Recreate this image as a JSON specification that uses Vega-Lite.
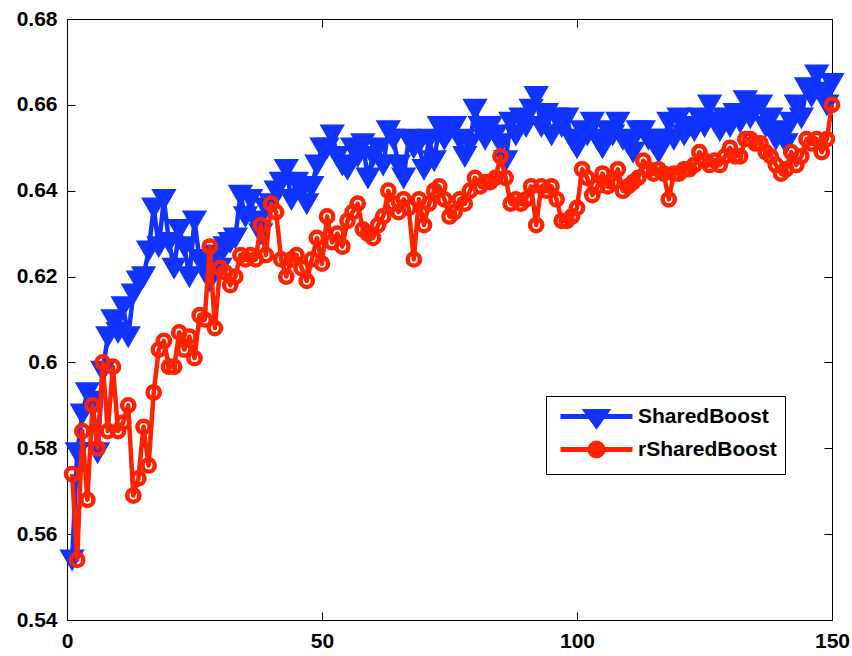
{
  "$schema": "https://vega.github.io/schema/vega-lite/v6.json",
  "autosize": "none",
  "width": 765,
  "height": 601,
  "padding": {"left": 67, "top": 19, "right": 20, "bottom": 36},
  "background": "white",
  "config": {
    "view": {"stroke": "black", "strokeWidth": 1},
    "axis": {
      "grid": false,
      "domainColor": "black",
      "domainWidth": 1,
      "tickColor": "black",
      "tickWidth": 1,
      "tickSize": -8,
      "labelFont": "Liberation Sans",
      "labelFontSize": 21,
      "labelFontWeight": "bold",
      "labelColor": "black",
      "labelPadding": 18,
      "labelFlush": false,
      "labelOverlap": false,
      "labelBound": false,
      "title": null
    },
    "legend": {
      "title": null, "orient": "none", "legendX": 479, "legendY": 377,
      "strokeColor": "black", "fillColor": "white", "padding": 8, "rowPadding": -3, "cornerRadius": 0,
      "symbolSize": 400, "symbolStrokeWidth": 5, "symbolOpacity": 1, "symbolOffset": 30, "labelOffset": 29,
      "labelFont": "Liberation Sans", "labelFontSize": 21, "labelFontWeight": "bold", "labelColor": "black", "labelLimit": 300
    }
  },
  "data": {
    "values": [
      {"x":1,"SharedBoost":0.554,"rSharedBoost":0.574},
      {"x":2,"SharedBoost":0.579,"rSharedBoost":0.554},
      {"x":3,"SharedBoost":0.588,"rSharedBoost":0.584},
      {"x":4,"SharedBoost":0.593,"rSharedBoost":0.568},
      {"x":5,"SharedBoost":0.591,"rSharedBoost":0.590},
      {"x":6,"SharedBoost":0.579,"rSharedBoost":0.580},
      {"x":7,"SharedBoost":0.598,"rSharedBoost":0.600},
      {"x":8,"SharedBoost":0.606,"rSharedBoost":0.584},
      {"x":9,"SharedBoost":0.610,"rSharedBoost":0.599},
      {"x":10,"SharedBoost":0.607,"rSharedBoost":0.584},
      {"x":11,"SharedBoost":0.613,"rSharedBoost":0.586},
      {"x":12,"SharedBoost":0.606,"rSharedBoost":0.590},
      {"x":13,"SharedBoost":0.616,"rSharedBoost":0.569},
      {"x":14,"SharedBoost":0.619,"rSharedBoost":0.573},
      {"x":15,"SharedBoost":0.620,"rSharedBoost":0.585},
      {"x":16,"SharedBoost":0.626,"rSharedBoost":0.576},
      {"x":17,"SharedBoost":0.636,"rSharedBoost":0.593},
      {"x":18,"SharedBoost":0.627,"rSharedBoost":0.603},
      {"x":19,"SharedBoost":0.638,"rSharedBoost":0.605},
      {"x":20,"SharedBoost":0.628,"rSharedBoost":0.599},
      {"x":21,"SharedBoost":0.622,"rSharedBoost":0.599},
      {"x":22,"SharedBoost":0.631,"rSharedBoost":0.607},
      {"x":23,"SharedBoost":0.627,"rSharedBoost":0.603},
      {"x":24,"SharedBoost":0.620,"rSharedBoost":0.606},
      {"x":25,"SharedBoost":0.633,"rSharedBoost":0.601},
      {"x":26,"SharedBoost":0.624,"rSharedBoost":0.611},
      {"x":27,"SharedBoost":0.622,"rSharedBoost":0.610},
      {"x":28,"SharedBoost":0.619,"rSharedBoost":0.627},
      {"x":29,"SharedBoost":0.625,"rSharedBoost":0.608},
      {"x":30,"SharedBoost":0.622,"rSharedBoost":0.622},
      {"x":31,"SharedBoost":0.627,"rSharedBoost":0.621},
      {"x":32,"SharedBoost":0.628,"rSharedBoost":0.618},
      {"x":33,"SharedBoost":0.629,"rSharedBoost":0.620},
      {"x":34,"SharedBoost":0.639,"rSharedBoost":0.625},
      {"x":35,"SharedBoost":0.634,"rSharedBoost":0.624},
      {"x":36,"SharedBoost":0.638,"rSharedBoost":0.625},
      {"x":37,"SharedBoost":0.633,"rSharedBoost":0.624},
      {"x":38,"SharedBoost":0.630,"rSharedBoost":0.632},
      {"x":39,"SharedBoost":0.636,"rSharedBoost":0.625},
      {"x":40,"SharedBoost":0.637,"rSharedBoost":0.637},
      {"x":41,"SharedBoost":0.640,"rSharedBoost":0.635},
      {"x":42,"SharedBoost":0.642,"rSharedBoost":0.624},
      {"x":43,"SharedBoost":0.645,"rSharedBoost":0.620},
      {"x":44,"SharedBoost":0.638,"rSharedBoost":0.624},
      {"x":45,"SharedBoost":0.642,"rSharedBoost":0.625},
      {"x":46,"SharedBoost":0.640,"rSharedBoost":0.622},
      {"x":47,"SharedBoost":0.637,"rSharedBoost":0.619},
      {"x":48,"SharedBoost":0.641,"rSharedBoost":0.624},
      {"x":49,"SharedBoost":0.646,"rSharedBoost":0.629},
      {"x":50,"SharedBoost":0.650,"rSharedBoost":0.623},
      {"x":51,"SharedBoost":0.650,"rSharedBoost":0.634},
      {"x":52,"SharedBoost":0.653,"rSharedBoost":0.628},
      {"x":53,"SharedBoost":0.648,"rSharedBoost":0.630},
      {"x":54,"SharedBoost":0.646,"rSharedBoost":0.627},
      {"x":55,"SharedBoost":0.645,"rSharedBoost":0.633},
      {"x":56,"SharedBoost":0.650,"rSharedBoost":0.635},
      {"x":57,"SharedBoost":0.648,"rSharedBoost":0.637},
      {"x":58,"SharedBoost":0.651,"rSharedBoost":0.631},
      {"x":59,"SharedBoost":0.643,"rSharedBoost":0.630},
      {"x":60,"SharedBoost":0.648,"rSharedBoost":0.629},
      {"x":61,"SharedBoost":0.650,"rSharedBoost":0.632},
      {"x":62,"SharedBoost":0.646,"rSharedBoost":0.634},
      {"x":63,"SharedBoost":0.654,"rSharedBoost":0.640},
      {"x":64,"SharedBoost":0.652,"rSharedBoost":0.637},
      {"x":65,"SharedBoost":0.646,"rSharedBoost":0.635},
      {"x":66,"SharedBoost":0.643,"rSharedBoost":0.638},
      {"x":67,"SharedBoost":0.652,"rSharedBoost":0.636},
      {"x":68,"SharedBoost":0.650,"rSharedBoost":0.624},
      {"x":69,"SharedBoost":0.651,"rSharedBoost":0.638},
      {"x":70,"SharedBoost":0.645,"rSharedBoost":0.632},
      {"x":71,"SharedBoost":0.652,"rSharedBoost":0.637},
      {"x":72,"SharedBoost":0.647,"rSharedBoost":0.640},
      {"x":73,"SharedBoost":0.655,"rSharedBoost":0.641},
      {"x":74,"SharedBoost":0.652,"rSharedBoost":0.638},
      {"x":75,"SharedBoost":0.654,"rSharedBoost":0.634},
      {"x":76,"SharedBoost":0.655,"rSharedBoost":0.635},
      {"x":77,"SharedBoost":0.652,"rSharedBoost":0.638},
      {"x":78,"SharedBoost":0.648,"rSharedBoost":0.637},
      {"x":79,"SharedBoost":0.651,"rSharedBoost":0.640},
      {"x":80,"SharedBoost":0.659,"rSharedBoost":0.643},
      {"x":81,"SharedBoost":0.655,"rSharedBoost":0.641},
      {"x":82,"SharedBoost":0.652,"rSharedBoost":0.642},
      {"x":83,"SharedBoost":0.655,"rSharedBoost":0.642},
      {"x":84,"SharedBoost":0.653,"rSharedBoost":0.643},
      {"x":85,"SharedBoost":0.651,"rSharedBoost":0.648},
      {"x":86,"SharedBoost":0.647,"rSharedBoost":0.643},
      {"x":87,"SharedBoost":0.656,"rSharedBoost":0.637},
      {"x":88,"SharedBoost":0.653,"rSharedBoost":0.638},
      {"x":89,"SharedBoost":0.657,"rSharedBoost":0.637},
      {"x":90,"SharedBoost":0.655,"rSharedBoost":0.638},
      {"x":91,"SharedBoost":0.659,"rSharedBoost":0.641},
      {"x":92,"SharedBoost":0.662,"rSharedBoost":0.632},
      {"x":93,"SharedBoost":0.655,"rSharedBoost":0.641},
      {"x":94,"SharedBoost":0.658,"rSharedBoost":0.640},
      {"x":95,"SharedBoost":0.653,"rSharedBoost":0.641},
      {"x":96,"SharedBoost":0.657,"rSharedBoost":0.638},
      {"x":97,"SharedBoost":0.655,"rSharedBoost":0.633},
      {"x":98,"SharedBoost":0.657,"rSharedBoost":0.633},
      {"x":99,"SharedBoost":0.652,"rSharedBoost":0.634},
      {"x":100,"SharedBoost":0.650,"rSharedBoost":0.636},
      {"x":101,"SharedBoost":0.654,"rSharedBoost":0.645},
      {"x":102,"SharedBoost":0.653,"rSharedBoost":0.643},
      {"x":103,"SharedBoost":0.656,"rSharedBoost":0.639},
      {"x":104,"SharedBoost":0.652,"rSharedBoost":0.641},
      {"x":105,"SharedBoost":0.650,"rSharedBoost":0.644},
      {"x":106,"SharedBoost":0.654,"rSharedBoost":0.641},
      {"x":107,"SharedBoost":0.653,"rSharedBoost":0.642},
      {"x":108,"SharedBoost":0.656,"rSharedBoost":0.645},
      {"x":109,"SharedBoost":0.652,"rSharedBoost":0.640},
      {"x":110,"SharedBoost":0.651,"rSharedBoost":0.641},
      {"x":111,"SharedBoost":0.649,"rSharedBoost":0.642},
      {"x":112,"SharedBoost":0.654,"rSharedBoost":0.643},
      {"x":113,"SharedBoost":0.654,"rSharedBoost":0.647},
      {"x":114,"SharedBoost":0.652,"rSharedBoost":0.645},
      {"x":115,"SharedBoost":0.651,"rSharedBoost":0.644},
      {"x":116,"SharedBoost":0.649,"rSharedBoost":0.645},
      {"x":117,"SharedBoost":0.652,"rSharedBoost":0.644},
      {"x":118,"SharedBoost":0.656,"rSharedBoost":0.638},
      {"x":119,"SharedBoost":0.652,"rSharedBoost":0.644},
      {"x":120,"SharedBoost":0.657,"rSharedBoost":0.644},
      {"x":121,"SharedBoost":0.653,"rSharedBoost":0.645},
      {"x":122,"SharedBoost":0.655,"rSharedBoost":0.645},
      {"x":123,"SharedBoost":0.654,"rSharedBoost":0.646},
      {"x":124,"SharedBoost":0.657,"rSharedBoost":0.649},
      {"x":125,"SharedBoost":0.655,"rSharedBoost":0.647},
      {"x":126,"SharedBoost":0.660,"rSharedBoost":0.646},
      {"x":127,"SharedBoost":0.656,"rSharedBoost":0.647},
      {"x":128,"SharedBoost":0.654,"rSharedBoost":0.646},
      {"x":129,"SharedBoost":0.657,"rSharedBoost":0.648},
      {"x":130,"SharedBoost":0.655,"rSharedBoost":0.650},
      {"x":131,"SharedBoost":0.658,"rSharedBoost":0.648},
      {"x":132,"SharedBoost":0.656,"rSharedBoost":0.648},
      {"x":133,"SharedBoost":0.661,"rSharedBoost":0.652},
      {"x":134,"SharedBoost":0.657,"rSharedBoost":0.652},
      {"x":135,"SharedBoost":0.659,"rSharedBoost":0.651},
      {"x":136,"SharedBoost":0.660,"rSharedBoost":0.651},
      {"x":137,"SharedBoost":0.655,"rSharedBoost":0.649},
      {"x":138,"SharedBoost":0.657,"rSharedBoost":0.648},
      {"x":139,"SharedBoost":0.652,"rSharedBoost":0.646},
      {"x":140,"SharedBoost":0.654,"rSharedBoost":0.644},
      {"x":141,"SharedBoost":0.651,"rSharedBoost":0.645},
      {"x":142,"SharedBoost":0.656,"rSharedBoost":0.649},
      {"x":143,"SharedBoost":0.660,"rSharedBoost":0.646},
      {"x":144,"SharedBoost":0.657,"rSharedBoost":0.648},
      {"x":145,"SharedBoost":0.664,"rSharedBoost":0.652},
      {"x":146,"SharedBoost":0.662,"rSharedBoost":0.651},
      {"x":147,"SharedBoost":0.667,"rSharedBoost":0.652},
      {"x":148,"SharedBoost":0.663,"rSharedBoost":0.649},
      {"x":149,"SharedBoost":0.660,"rSharedBoost":0.652},
      {"x":150,"SharedBoost":0.665,"rSharedBoost":0.660}
    ]
  },
  "transform": [{"fold": ["SharedBoost", "rSharedBoost"], "as": ["s", "y"]}],
  "resolve": {"axis": {"x": "independent", "y": "independent"}},
  "layer": [
    {
      "mark": {"type": "point", "filled": true, "opacity": 0, "strokeWidth": 5, "size": 400},
      "encoding": {
        "x": {"field": "x", "type": "quantitative", "scale": {"domain": [0, 150], "nice": false, "zero": false},
              "axis": {"orient": "bottom", "values": [0, 50, 100, 150]}},
        "y": {"field": "y", "type": "quantitative", "scale": {"domain": [0.54, 0.68], "nice": false, "zero": false},
              "axis": {"orient": "left", "values": [0.54, 0.56, 0.58, 0.6, 0.62, 0.64, 0.66, 0.68], "format": ".2~f"}},
        "color": {"field": "s", "type": "nominal",
          "scale": {"domain": ["SharedBoost", "rSharedBoost"], "range": ["#1133ff", "#ff2200"]}},
        "stroke": {"field": "s", "type": "nominal",
          "scale": {"domain": ["SharedBoost", "rSharedBoost"], "range": ["#1133ff", "#ff2200"]}},
        "shape": {"field": "s", "type": "nominal",
          "scale": {"domain": ["SharedBoost", "rSharedBoost"], "range": ["M-3.6,0L3.6,0M-1,-0.5L1,-0.5L0,0.9Z", "M-3.6,0L3.6,0M0.65,0A0.65,0.65,0,1,1,-0.65,0A0.65,0.65,0,1,1,0.65,0Z"]}}
      }
    },
    {
      "transform": [{"filter": "datum.s === 'SharedBoost'"}],
      "mark": {"type": "line", "stroke": "#1133ff", "strokeWidth": 4.5, "strokeJoin": "round"},
      "encoding": {
        "x": {"field": "x", "type": "quantitative", "axis": {"orient": "top", "labels": false, "values": [0, 50, 100, 150]}},
        "y": {"field": "y", "type": "quantitative", "axis": {"orient": "right", "labels": false, "values": [0.54, 0.56, 0.58, 0.6, 0.62, 0.64, 0.66, 0.68]}}
      }
    },
    {
      "transform": [{"filter": "datum.s === 'SharedBoost'"}],
      "mark": {"type": "point", "shape": "triangle-down", "filled": true, "fill": "#1133ff", "stroke": "#1133ff", "strokeWidth": 2.5, "size": 440, "opacity": 1},
      "encoding": {
        "x": {"field": "x", "type": "quantitative", "axis": null},
        "y": {"field": "y", "type": "quantitative", "axis": null}
      }
    },
    {
      "transform": [{"filter": "datum.s === 'rSharedBoost'"}],
      "mark": {"type": "line", "stroke": "#ff2200", "strokeWidth": 4.5, "strokeJoin": "round"},
      "encoding": {
        "x": {"field": "x", "type": "quantitative", "axis": null},
        "y": {"field": "y", "type": "quantitative", "axis": null}
      }
    },
    {
      "transform": [{"filter": "datum.s === 'rSharedBoost'"}],
      "mark": {"type": "point", "shape": "circle", "filled": false, "stroke": "#ff2200", "strokeWidth": 4.5, "size": 150, "opacity": 1},
      "encoding": {
        "x": {"field": "x", "type": "quantitative", "axis": null},
        "y": {"field": "y", "type": "quantitative", "axis": null}
      }
    }
  ]
}
